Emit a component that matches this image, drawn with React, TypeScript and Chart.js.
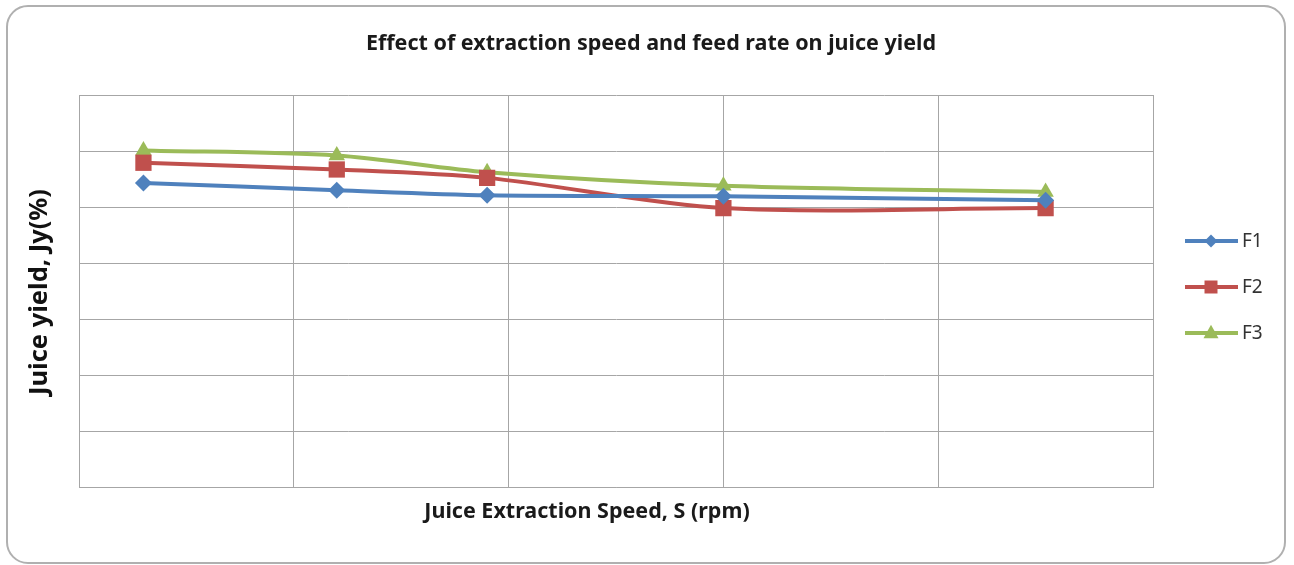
import React, { useEffect, useRef } from "react";
import { Chart, registerables } from "chart.js";

Chart.register(...registerables);

const speeds = [30, 120, 190, 300, 450];
const seriesNames = ["F1", "F2", "F3"];
const f1 = [54.3, 53.0, 52.1, 51.9, 51.2];
const f2 = [57.9, 56.7, 55.2, 49.8, 49.8];
const f3 = [60.1, 59.2, 56.2, 53.8, 52.7];
const colors = ["#4F81BD", "#C0504D", "#9BBB59"];
const pointStyles = ["rectRot", "rect", "triangle"];
const pointRadii = [8.5, 11.5, 9.5];

const chartTitle = "Effect of extraction speed and feed rate on juice yield";
const xTitle = "Juice Extraction Speed, S (rpm)";
const yTitle = "Juice yield, Jy(%)";

const FONT = "'Noto Sans', 'Open Sans', sans-serif";

function drawMarker(ctx: CanvasRenderingContext2D, style: string, x: number, y: number, s: number) {
  ctx.beginPath();
  if (style === "rectRot") {
    ctx.moveTo(x, y - s);
    ctx.lineTo(x + s, y);
    ctx.lineTo(x, y + s);
    ctx.lineTo(x - s, y);
  } else if (style === "rect") {
    ctx.rect(x - s, y - s, 2 * s, 2 * s);
  } else {
    ctx.moveTo(x, y - s * 1.1);
    ctx.lineTo(x + s, y + s * 0.7);
    ctx.lineTo(x - s, y + s * 0.7);
  }
  ctx.closePath();
  ctx.fill();
}

const extrasPlugin = {
  id: "extras",
  afterDraw(chart: any) {
    const ctx: CanvasRenderingContext2D = chart.ctx;
    ctx.save();
    ctx.textAlign = "center";
    ctx.textBaseline = "middle";
    ctx.fillStyle = "#1a1a1a";
    ctx.font = `bold 21.5px ${FONT}`;
    ctx.fillText(chartTitle, 651, 44);
    ctx.font = `bold 21.5px ${FONT}`;
    ctx.fillText(xTitle, 587, 512);
    ctx.save();
    ctx.translate(40, 292);
    ctx.rotate(-Math.PI / 2);
    ctx.font = `bold 25.5px ${FONT}`;
    ctx.fillStyle = "#111";
    ctx.fillText(yTitle, 0, 0);
    ctx.restore();
    const ys = [241, 287, 333];
    const markerSizes = [6.5, 6.5, 7.5];
    chart.data.datasets.forEach((ds: any, i: number) => {
      const y = ys[i];
      ctx.strokeStyle = ds.borderColor;
      ctx.lineWidth = 4;
      ctx.beginPath();
      ctx.moveTo(1185, y);
      ctx.lineTo(1238, y);
      ctx.stroke();
      ctx.fillStyle = ds.backgroundColor;
      drawMarker(ctx, pointStyles[i], 1211, y, markerSizes[i]);
      ctx.fillStyle = "#333";
      ctx.font = `19px ${FONT}`;
      ctx.textAlign = "left";
      ctx.textBaseline = "middle";
      ctx.fillText(ds.label, 1242, y + 1);
    });
    ctx.restore();
  },
};

export default function App() {
  const ref = useRef<HTMLCanvasElement>(null);

  useEffect(() => {
    if (!ref.current) return;
    const datasets = [f1, f2, f3].map((vals, i) => ({
      label: seriesNames[i],
      data: speeds.map((s, j) => ({ x: s, y: vals[j] })),
      borderColor: colors[i],
      backgroundColor: colors[i],
      borderWidth: 4,
      pointStyle: pointStyles[i] as any,
      pointRadius: pointRadii[i],
      pointBorderWidth: 0,
      tension: 0.3,
      showLine: true,
      fill: false,
    }));
    const chart = new Chart(ref.current, {
      type: "scatter",
      data: { datasets },
      plugins: [extrasPlugin],
      options: {
        responsive: false,
        animation: false,
        devicePixelRatio: 1,
        layout: { padding: { left: 8, right: 141, top: 95, bottom: 8 } },
        plugins: {
          legend: { display: false },
          tooltip: { enabled: false },
          title: { display: false },
        },
        scales: {
          x: {
            type: "linear",
            min: 0,
            max: 500,
            ticks: { display: false, stepSize: 100 },
            grid: { color: "#a6a6a6", lineWidth: 1, drawTicks: false },
            border: { display: true, color: "#a6a6a6", width: 1 },
            title: { display: false },
            afterFit: (scale: any) => {
              scale.height = 70;
            },
          },
          y: {
            type: "linear",
            min: 0,
            max: 70,
            ticks: { display: false, stepSize: 10 },
            grid: { color: "#a6a6a6", lineWidth: 1, drawTicks: false },
            border: { display: true, color: "#a6a6a6", width: 1 },
            title: { display: false },
            afterFit: (scale: any) => {
              scale.width = 71;
            },
          },
        },
      },
    });
    return () => chart.destroy();
  }, []);

  return (
    <div style={{ position: "absolute", left: 0, top: 0, width: 1294, height: 565, background: "#fff" }}>
      <div
        style={{
          position: "absolute",
          left: 6,
          top: 5,
          width: 1276,
          height: 555,
          border: "2px solid #b0b0b0",
          borderRadius: 22,
          boxSizing: "content-box",
        }}
      />
      <canvas ref={ref} width={1294} height={565} style={{ position: "absolute", left: 0, top: 0 }} />
    </div>
  );
}
